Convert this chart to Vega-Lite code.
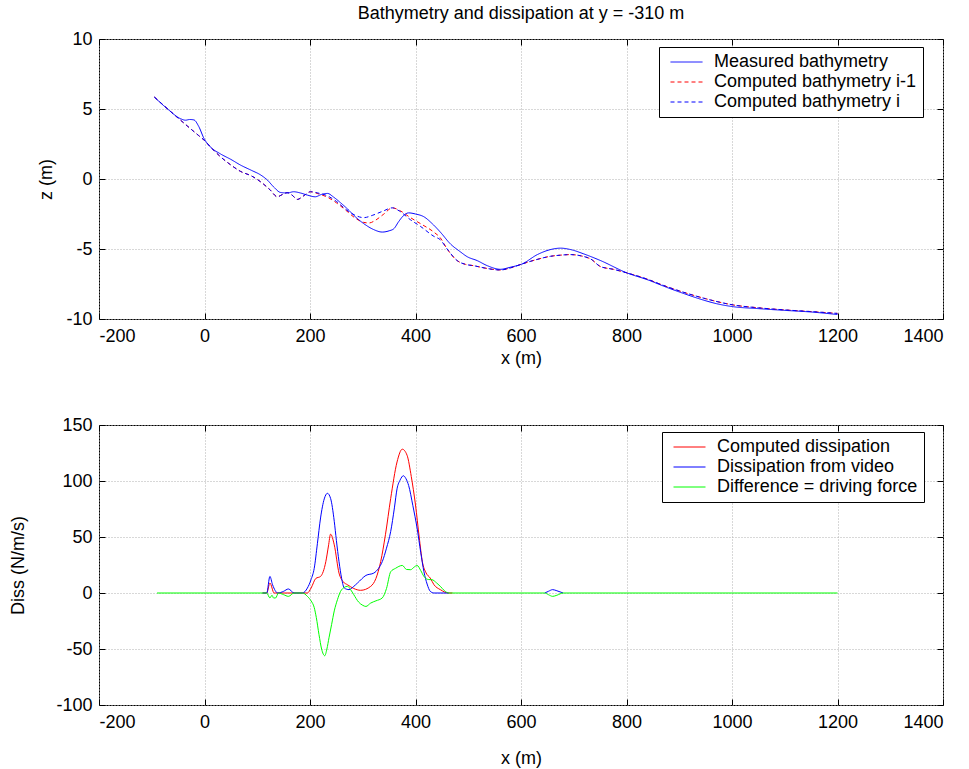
{
  "$schema": "https://vega.github.io/schema/vega-lite/v6.json",
  "background": "white",
  "padding": {"left": 8, "top": 4, "right": 20, "bottom": 4},
  "bounds": "flush",
  "spacing": 106,
  "resolve": {"scale": {"color": "independent", "strokeDash": "independent"}, "legend": {"color": "independent", "strokeDash": "independent"}},
  "config": {
    "font": "Liberation Sans",
    "view": {"stroke": "black", "strokeWidth": 1},
    "axis": {
      "domain": false,
      "tickColor": "black",
      "tickSize": -6,
      "labelColor": "black",
      "labelFontSize": 18,
      "titleFontSize": 18,
      "titleFontWeight": "normal",
      "titleColor": "black",
      "gridColor": "#b0b0b0",
      "gridDash": [1, 2],
      "gridWidth": 1,
      "labelExpr": "'' + datum.value"
    },
    "legend": {
      "orient": "none",
      "strokeColor": "black",
      "fillColor": "white",
      "padding": 5,
      "labelFontSize": 18,
      "labelColor": "black",
      "labelLimit": 400,
      "symbolType": "stroke",
      "symbolSize": 1024,
      "symbolStrokeWidth": 1,
      "symbolOffset": 6,
      "labelOffset": 11,
      "clipHeight": 20,
      "rowPadding": 0,
      "titleOrient": "right",
      "titleFontSize": 18,
      "titleFontWeight": "normal",
      "titlePadding": 2
    },
    "title": {"fontSize": 18, "fontWeight": "normal", "color": "black"}
  },
  "datasets": {
    "bathy": [
      {"x": -95, "z": 5.85, "s": "Measured bathymetry"},
      {"x": -70, "z": 5.0, "s": "Measured bathymetry"},
      {"x": -45, "z": 4.3, "s": "Measured bathymetry"},
      {"x": -36, "z": 4.2, "s": "Measured bathymetry"},
      {"x": -28, "z": 4.25, "s": "Measured bathymetry"},
      {"x": -20, "z": 4.22, "s": "Measured bathymetry"},
      {"x": -11, "z": 3.76, "s": "Measured bathymetry"},
      {"x": -1, "z": 2.9, "s": "Measured bathymetry"},
      {"x": 11, "z": 2.3, "s": "Measured bathymetry"},
      {"x": 30, "z": 1.8, "s": "Measured bathymetry"},
      {"x": 50, "z": 1.4, "s": "Measured bathymetry"},
      {"x": 68, "z": 1.0, "s": "Measured bathymetry"},
      {"x": 90, "z": 0.6, "s": "Measured bathymetry"},
      {"x": 106, "z": 0.3, "s": "Measured bathymetry"},
      {"x": 119, "z": -0.07, "s": "Measured bathymetry"},
      {"x": 132, "z": -0.6, "s": "Measured bathymetry"},
      {"x": 144, "z": -0.96, "s": "Measured bathymetry"},
      {"x": 157, "z": -1.0, "s": "Measured bathymetry"},
      {"x": 169, "z": -0.91, "s": "Measured bathymetry"},
      {"x": 182, "z": -1.0, "s": "Measured bathymetry"},
      {"x": 195, "z": -1.15, "s": "Measured bathymetry"},
      {"x": 210, "z": -1.27, "s": "Measured bathymetry"},
      {"x": 222, "z": -1.1, "s": "Measured bathymetry"},
      {"x": 233, "z": -1.03, "s": "Measured bathymetry"},
      {"x": 245, "z": -1.3, "s": "Measured bathymetry"},
      {"x": 258, "z": -1.7, "s": "Measured bathymetry"},
      {"x": 270, "z": -2.1, "s": "Measured bathymetry"},
      {"x": 286, "z": -2.7, "s": "Measured bathymetry"},
      {"x": 302, "z": -3.19, "s": "Measured bathymetry"},
      {"x": 320, "z": -3.6, "s": "Measured bathymetry"},
      {"x": 337, "z": -3.79, "s": "Measured bathymetry"},
      {"x": 350, "z": -3.7, "s": "Measured bathymetry"},
      {"x": 359, "z": -3.55, "s": "Measured bathymetry"},
      {"x": 368, "z": -3.05, "s": "Measured bathymetry"},
      {"x": 378, "z": -2.59, "s": "Measured bathymetry"},
      {"x": 387, "z": -2.42, "s": "Measured bathymetry"},
      {"x": 400, "z": -2.5, "s": "Measured bathymetry"},
      {"x": 416, "z": -2.7, "s": "Measured bathymetry"},
      {"x": 432, "z": -3.2, "s": "Measured bathymetry"},
      {"x": 447, "z": -3.79, "s": "Measured bathymetry"},
      {"x": 466, "z": -4.63, "s": "Measured bathymetry"},
      {"x": 485, "z": -5.2, "s": "Measured bathymetry"},
      {"x": 498, "z": -5.55, "s": "Measured bathymetry"},
      {"x": 517, "z": -5.83, "s": "Measured bathymetry"},
      {"x": 536, "z": -6.19, "s": "Measured bathymetry"},
      {"x": 561, "z": -6.45, "s": "Measured bathymetry"},
      {"x": 580, "z": -6.3, "s": "Measured bathymetry"},
      {"x": 602, "z": -6.07, "s": "Measured bathymetry"},
      {"x": 631, "z": -5.4, "s": "Measured bathymetry"},
      {"x": 655, "z": -5.05, "s": "Measured bathymetry"},
      {"x": 675, "z": -4.94, "s": "Measured bathymetry"},
      {"x": 695, "z": -5.05, "s": "Measured bathymetry"},
      {"x": 719, "z": -5.35, "s": "Measured bathymetry"},
      {"x": 751, "z": -5.83, "s": "Measured bathymetry"},
      {"x": 801, "z": -6.71, "s": "Measured bathymetry"},
      {"x": 840, "z": -7.2, "s": "Measured bathymetry"},
      {"x": 877, "z": -7.75, "s": "Measured bathymetry"},
      {"x": 910, "z": -8.2, "s": "Measured bathymetry"},
      {"x": 940, "z": -8.58, "s": "Measured bathymetry"},
      {"x": 970, "z": -8.9, "s": "Measured bathymetry"},
      {"x": 1000, "z": -9.11, "s": "Measured bathymetry"},
      {"x": 1050, "z": -9.26, "s": "Measured bathymetry"},
      {"x": 1098, "z": -9.38, "s": "Measured bathymetry"},
      {"x": 1150, "z": -9.5, "s": "Measured bathymetry"},
      {"x": 1200, "z": -9.68, "s": "Measured bathymetry"},

      {"x": -95, "z": 5.85, "s": "Computed bathymetry i-1"},
      {"x": -50, "z": 4.35, "s": "Computed bathymetry i-1"},
      {"x": -33, "z": 3.8, "s": "Computed bathymetry i-1"},
      {"x": -11, "z": 3.1, "s": "Computed bathymetry i-1"},
      {"x": 0, "z": 2.75, "s": "Computed bathymetry i-1"},
      {"x": 11, "z": 2.3, "s": "Computed bathymetry i-1"},
      {"x": 30, "z": 1.6, "s": "Computed bathymetry i-1"},
      {"x": 50, "z": 1.0, "s": "Computed bathymetry i-1"},
      {"x": 68, "z": 0.55, "s": "Computed bathymetry i-1"},
      {"x": 90, "z": 0.2, "s": "Computed bathymetry i-1"},
      {"x": 106, "z": -0.19, "s": "Computed bathymetry i-1"},
      {"x": 125, "z": -0.8, "s": "Computed bathymetry i-1"},
      {"x": 138, "z": -1.27, "s": "Computed bathymetry i-1"},
      {"x": 148, "z": -1.1, "s": "Computed bathymetry i-1"},
      {"x": 157, "z": -0.97, "s": "Computed bathymetry i-1"},
      {"x": 166, "z": -1.15, "s": "Computed bathymetry i-1"},
      {"x": 176, "z": -1.46, "s": "Computed bathymetry i-1"},
      {"x": 188, "z": -1.2, "s": "Computed bathymetry i-1"},
      {"x": 201, "z": -0.91, "s": "Computed bathymetry i-1"},
      {"x": 215, "z": -1.05, "s": "Computed bathymetry i-1"},
      {"x": 233, "z": -1.3, "s": "Computed bathymetry i-1"},
      {"x": 250, "z": -1.7, "s": "Computed bathymetry i-1"},
      {"x": 270, "z": -2.3, "s": "Computed bathymetry i-1"},
      {"x": 286, "z": -2.8, "s": "Computed bathymetry i-1"},
      {"x": 302, "z": -3.1, "s": "Computed bathymetry i-1"},
      {"x": 312, "z": -3.14, "s": "Computed bathymetry i-1"},
      {"x": 324, "z": -2.95, "s": "Computed bathymetry i-1"},
      {"x": 340, "z": -2.5, "s": "Computed bathymetry i-1"},
      {"x": 356, "z": -2.06, "s": "Computed bathymetry i-1"},
      {"x": 370, "z": -2.25, "s": "Computed bathymetry i-1"},
      {"x": 390, "z": -2.75, "s": "Computed bathymetry i-1"},
      {"x": 410, "z": -3.2, "s": "Computed bathymetry i-1"},
      {"x": 435, "z": -3.8, "s": "Computed bathymetry i-1"},
      {"x": 447, "z": -4.2, "s": "Computed bathymetry i-1"},
      {"x": 460, "z": -5.0, "s": "Computed bathymetry i-1"},
      {"x": 479, "z": -5.83, "s": "Computed bathymetry i-1"},
      {"x": 495, "z": -6.1, "s": "Computed bathymetry i-1"},
      {"x": 510, "z": -6.19, "s": "Computed bathymetry i-1"},
      {"x": 530, "z": -6.35, "s": "Computed bathymetry i-1"},
      {"x": 561, "z": -6.5, "s": "Computed bathymetry i-1"},
      {"x": 580, "z": -6.35, "s": "Computed bathymetry i-1"},
      {"x": 602, "z": -6.07, "s": "Computed bathymetry i-1"},
      {"x": 630, "z": -5.75, "s": "Computed bathymetry i-1"},
      {"x": 656, "z": -5.52, "s": "Computed bathymetry i-1"},
      {"x": 675, "z": -5.44, "s": "Computed bathymetry i-1"},
      {"x": 694, "z": -5.4, "s": "Computed bathymetry i-1"},
      {"x": 715, "z": -5.5, "s": "Computed bathymetry i-1"},
      {"x": 732, "z": -5.71, "s": "Computed bathymetry i-1"},
      {"x": 751, "z": -6.26, "s": "Computed bathymetry i-1"},
      {"x": 775, "z": -6.45, "s": "Computed bathymetry i-1"},
      {"x": 801, "z": -6.71, "s": "Computed bathymetry i-1"},
      {"x": 839, "z": -7.15, "s": "Computed bathymetry i-1"},
      {"x": 870, "z": -7.6, "s": "Computed bathymetry i-1"},
      {"x": 909, "z": -8.1, "s": "Computed bathymetry i-1"},
      {"x": 950, "z": -8.55, "s": "Computed bathymetry i-1"},
      {"x": 1003, "z": -9.0, "s": "Computed bathymetry i-1"},
      {"x": 1050, "z": -9.2, "s": "Computed bathymetry i-1"},
      {"x": 1100, "z": -9.35, "s": "Computed bathymetry i-1"},
      {"x": 1150, "z": -9.47, "s": "Computed bathymetry i-1"},
      {"x": 1200, "z": -9.6, "s": "Computed bathymetry i-1"},

      {"x": -95, "z": 5.85, "s": "Computed bathymetry i"},
      {"x": -50, "z": 4.35, "s": "Computed bathymetry i"},
      {"x": -33, "z": 3.8, "s": "Computed bathymetry i"},
      {"x": -11, "z": 3.1, "s": "Computed bathymetry i"},
      {"x": 0, "z": 2.75, "s": "Computed bathymetry i"},
      {"x": 11, "z": 2.3, "s": "Computed bathymetry i"},
      {"x": 30, "z": 1.6, "s": "Computed bathymetry i"},
      {"x": 50, "z": 1.0, "s": "Computed bathymetry i"},
      {"x": 68, "z": 0.55, "s": "Computed bathymetry i"},
      {"x": 90, "z": 0.2, "s": "Computed bathymetry i"},
      {"x": 106, "z": -0.19, "s": "Computed bathymetry i"},
      {"x": 125, "z": -0.8, "s": "Computed bathymetry i"},
      {"x": 138, "z": -1.27, "s": "Computed bathymetry i"},
      {"x": 148, "z": -1.1, "s": "Computed bathymetry i"},
      {"x": 157, "z": -0.97, "s": "Computed bathymetry i"},
      {"x": 166, "z": -1.15, "s": "Computed bathymetry i"},
      {"x": 176, "z": -1.46, "s": "Computed bathymetry i"},
      {"x": 188, "z": -1.2, "s": "Computed bathymetry i"},
      {"x": 201, "z": -0.91, "s": "Computed bathymetry i"},
      {"x": 215, "z": -1.0, "s": "Computed bathymetry i"},
      {"x": 233, "z": -1.2, "s": "Computed bathymetry i"},
      {"x": 250, "z": -1.6, "s": "Computed bathymetry i"},
      {"x": 270, "z": -2.23, "s": "Computed bathymetry i"},
      {"x": 286, "z": -2.6, "s": "Computed bathymetry i"},
      {"x": 302, "z": -2.76, "s": "Computed bathymetry i"},
      {"x": 318, "z": -2.6, "s": "Computed bathymetry i"},
      {"x": 338, "z": -2.3, "s": "Computed bathymetry i"},
      {"x": 356, "z": -2.06, "s": "Computed bathymetry i"},
      {"x": 370, "z": -2.3, "s": "Computed bathymetry i"},
      {"x": 390, "z": -2.9, "s": "Computed bathymetry i"},
      {"x": 410, "z": -3.4, "s": "Computed bathymetry i"},
      {"x": 435, "z": -4.1, "s": "Computed bathymetry i"},
      {"x": 447, "z": -4.34, "s": "Computed bathymetry i"},
      {"x": 460, "z": -5.0, "s": "Computed bathymetry i"},
      {"x": 479, "z": -5.83, "s": "Computed bathymetry i"},
      {"x": 495, "z": -6.1, "s": "Computed bathymetry i"},
      {"x": 510, "z": -6.19, "s": "Computed bathymetry i"},
      {"x": 530, "z": -6.35, "s": "Computed bathymetry i"},
      {"x": 561, "z": -6.5, "s": "Computed bathymetry i"},
      {"x": 580, "z": -6.35, "s": "Computed bathymetry i"},
      {"x": 602, "z": -6.07, "s": "Computed bathymetry i"},
      {"x": 630, "z": -5.75, "s": "Computed bathymetry i"},
      {"x": 656, "z": -5.52, "s": "Computed bathymetry i"},
      {"x": 675, "z": -5.44, "s": "Computed bathymetry i"},
      {"x": 694, "z": -5.4, "s": "Computed bathymetry i"},
      {"x": 715, "z": -5.5, "s": "Computed bathymetry i"},
      {"x": 732, "z": -5.71, "s": "Computed bathymetry i"},
      {"x": 751, "z": -6.26, "s": "Computed bathymetry i"},
      {"x": 775, "z": -6.45, "s": "Computed bathymetry i"},
      {"x": 801, "z": -6.71, "s": "Computed bathymetry i"},
      {"x": 839, "z": -7.15, "s": "Computed bathymetry i"},
      {"x": 870, "z": -7.6, "s": "Computed bathymetry i"},
      {"x": 909, "z": -8.1, "s": "Computed bathymetry i"},
      {"x": 950, "z": -8.55, "s": "Computed bathymetry i"},
      {"x": 1003, "z": -9.0, "s": "Computed bathymetry i"},
      {"x": 1050, "z": -9.2, "s": "Computed bathymetry i"},
      {"x": 1100, "z": -9.35, "s": "Computed bathymetry i"},
      {"x": 1150, "z": -9.47, "s": "Computed bathymetry i"},
      {"x": 1200, "z": -9.6, "s": "Computed bathymetry i"}
    ],
    "diss": [
      {"x": 110, "d": 0, "s": "Computed dissipation", "g": "a"},
      {"x": 118, "d": 0, "s": "Computed dissipation", "g": "a"},
      {"x": 124, "d": 8.9, "s": "Computed dissipation", "g": "a"},
      {"x": 132, "d": 0, "s": "Computed dissipation", "g": "a"},
      {"x": 195, "d": 0, "s": "Computed dissipation", "g": "a"},
      {"x": 202, "d": 4.4, "s": "Computed dissipation", "g": "a"},
      {"x": 211, "d": 13, "s": "Computed dissipation", "g": "a"},
      {"x": 220, "d": 14.8, "s": "Computed dissipation", "g": "a"},
      {"x": 230, "d": 28, "s": "Computed dissipation", "g": "a"},
      {"x": 235, "d": 42, "s": "Computed dissipation", "g": "a"},
      {"x": 239, "d": 52.5, "s": "Computed dissipation", "g": "a"},
      {"x": 246, "d": 43, "s": "Computed dissipation", "g": "a"},
      {"x": 255, "d": 17.8, "s": "Computed dissipation", "g": "a"},
      {"x": 263, "d": 10, "s": "Computed dissipation", "g": "a"},
      {"x": 271, "d": 7.4, "s": "Computed dissipation", "g": "a"},
      {"x": 283, "d": 4, "s": "Computed dissipation", "g": "a"},
      {"x": 296, "d": 2.4, "s": "Computed dissipation", "g": "a"},
      {"x": 315, "d": 5.9, "s": "Computed dissipation", "g": "a"},
      {"x": 325, "d": 13, "s": "Computed dissipation", "g": "a"},
      {"x": 334, "d": 28, "s": "Computed dissipation", "g": "a"},
      {"x": 343, "d": 52, "s": "Computed dissipation", "g": "a"},
      {"x": 353, "d": 84.5, "s": "Computed dissipation", "g": "a"},
      {"x": 365, "d": 117, "s": "Computed dissipation", "g": "a"},
      {"x": 375, "d": 128.4, "s": "Computed dissipation", "g": "a"},
      {"x": 384, "d": 123, "s": "Computed dissipation", "g": "a"},
      {"x": 392, "d": 104, "s": "Computed dissipation", "g": "a"},
      {"x": 400, "d": 78.6, "s": "Computed dissipation", "g": "a"},
      {"x": 407, "d": 50, "s": "Computed dissipation", "g": "a"},
      {"x": 413, "d": 28, "s": "Computed dissipation", "g": "a"},
      {"x": 420, "d": 18, "s": "Computed dissipation", "g": "a"},
      {"x": 428, "d": 13.3, "s": "Computed dissipation", "g": "a"},
      {"x": 435, "d": 7.4, "s": "Computed dissipation", "g": "a"},
      {"x": 447, "d": 3, "s": "Computed dissipation", "g": "a"},
      {"x": 463, "d": 0, "s": "Computed dissipation", "g": "a"},
      {"x": 470, "d": 0, "s": "Computed dissipation", "g": "a"},

      {"x": 110, "d": 0, "s": "Dissipation from video", "g": "a"},
      {"x": 118, "d": 0, "s": "Dissipation from video", "g": "a"},
      {"x": 124, "d": 14.8, "s": "Dissipation from video", "g": "a"},
      {"x": 129, "d": 7.4, "s": "Dissipation from video", "g": "a"},
      {"x": 139, "d": 0, "s": "Dissipation from video", "g": "a"},
      {"x": 150, "d": 1.5, "s": "Dissipation from video", "g": "a"},
      {"x": 159, "d": 3.6, "s": "Dissipation from video", "g": "a"},
      {"x": 170, "d": 0, "s": "Dissipation from video", "g": "a"},
      {"x": 186, "d": 0, "s": "Dissipation from video", "g": "a"},
      {"x": 195, "d": 4.4, "s": "Dissipation from video", "g": "a"},
      {"x": 202, "d": 12, "s": "Dissipation from video", "g": "a"},
      {"x": 208, "d": 22, "s": "Dissipation from video", "g": "a"},
      {"x": 214, "d": 44, "s": "Dissipation from video", "g": "a"},
      {"x": 220, "d": 67, "s": "Dissipation from video", "g": "a"},
      {"x": 227, "d": 84, "s": "Dissipation from video", "g": "a"},
      {"x": 233, "d": 89, "s": "Dissipation from video", "g": "a"},
      {"x": 239, "d": 84.5, "s": "Dissipation from video", "g": "a"},
      {"x": 246, "d": 64, "s": "Dissipation from video", "g": "a"},
      {"x": 250, "d": 47, "s": "Dissipation from video", "g": "a"},
      {"x": 255, "d": 28, "s": "Dissipation from video", "g": "a"},
      {"x": 260, "d": 13, "s": "Dissipation from video", "g": "a"},
      {"x": 265, "d": 4.4, "s": "Dissipation from video", "g": "a"},
      {"x": 274, "d": 3, "s": "Dissipation from video", "g": "a"},
      {"x": 282, "d": 5.5, "s": "Dissipation from video", "g": "a"},
      {"x": 290, "d": 8.9, "s": "Dissipation from video", "g": "a"},
      {"x": 306, "d": 15.7, "s": "Dissipation from video", "g": "a"},
      {"x": 321, "d": 17.8, "s": "Dissipation from video", "g": "a"},
      {"x": 330, "d": 22, "s": "Dissipation from video", "g": "a"},
      {"x": 337, "d": 28, "s": "Dissipation from video", "g": "a"},
      {"x": 345, "d": 40, "s": "Dissipation from video", "g": "a"},
      {"x": 353, "d": 55, "s": "Dissipation from video", "g": "a"},
      {"x": 360, "d": 76, "s": "Dissipation from video", "g": "a"},
      {"x": 365, "d": 93, "s": "Dissipation from video", "g": "a"},
      {"x": 371, "d": 101, "s": "Dissipation from video", "g": "a"},
      {"x": 377, "d": 104.7, "s": "Dissipation from video", "g": "a"},
      {"x": 382, "d": 102, "s": "Dissipation from video", "g": "a"},
      {"x": 387, "d": 96, "s": "Dissipation from video", "g": "a"},
      {"x": 395, "d": 78, "s": "Dissipation from video", "g": "a"},
      {"x": 403, "d": 58, "s": "Dissipation from video", "g": "a"},
      {"x": 410, "d": 36, "s": "Dissipation from video", "g": "a"},
      {"x": 416, "d": 19, "s": "Dissipation from video", "g": "a"},
      {"x": 422, "d": 8, "s": "Dissipation from video", "g": "a"},
      {"x": 428, "d": 1.5, "s": "Dissipation from video", "g": "a"},
      {"x": 435, "d": 0, "s": "Dissipation from video", "g": "a"},
      {"x": 463, "d": 0, "s": "Dissipation from video", "g": "a"},
      {"x": 645, "d": 0, "s": "Dissipation from video", "g": "b"},
      {"x": 652, "d": 1.5, "s": "Dissipation from video", "g": "b"},
      {"x": 660, "d": 3, "s": "Dissipation from video", "g": "b"},
      {"x": 668, "d": 2, "s": "Dissipation from video", "g": "b"},
      {"x": 680, "d": 0, "s": "Dissipation from video", "g": "b"},

      {"x": -90, "d": 0, "s": "Difference = driving force", "g": "a"},
      {"x": 118, "d": 0, "s": "Difference = driving force", "g": "a"},
      {"x": 124, "d": -4.4, "s": "Difference = driving force", "g": "a"},
      {"x": 128, "d": -2, "s": "Difference = driving force", "g": "a"},
      {"x": 131, "d": -4.5, "s": "Difference = driving force", "g": "a"},
      {"x": 135, "d": -4.4, "s": "Difference = driving force", "g": "a"},
      {"x": 140, "d": 0, "s": "Difference = driving force", "g": "a"},
      {"x": 150, "d": -1.5, "s": "Difference = driving force", "g": "a"},
      {"x": 159, "d": -3, "s": "Difference = driving force", "g": "a"},
      {"x": 170, "d": 0, "s": "Difference = driving force", "g": "a"},
      {"x": 186, "d": 0, "s": "Difference = driving force", "g": "a"},
      {"x": 195, "d": -3, "s": "Difference = driving force", "g": "a"},
      {"x": 202, "d": -7, "s": "Difference = driving force", "g": "a"},
      {"x": 208, "d": -13, "s": "Difference = driving force", "g": "a"},
      {"x": 212, "d": -22, "s": "Difference = driving force", "g": "a"},
      {"x": 217, "d": -37, "s": "Difference = driving force", "g": "a"},
      {"x": 222, "d": -50, "s": "Difference = driving force", "g": "a"},
      {"x": 228, "d": -56, "s": "Difference = driving force", "g": "a"},
      {"x": 232, "d": -50, "s": "Difference = driving force", "g": "a"},
      {"x": 236, "d": -40, "s": "Difference = driving force", "g": "a"},
      {"x": 241, "d": -28, "s": "Difference = driving force", "g": "a"},
      {"x": 246, "d": -16, "s": "Difference = driving force", "g": "a"},
      {"x": 252, "d": -6, "s": "Difference = driving force", "g": "a"},
      {"x": 258, "d": 1.5, "s": "Difference = driving force", "g": "a"},
      {"x": 265, "d": 5, "s": "Difference = driving force", "g": "a"},
      {"x": 271, "d": 6, "s": "Difference = driving force", "g": "a"},
      {"x": 277, "d": 3, "s": "Difference = driving force", "g": "a"},
      {"x": 283, "d": -1.5, "s": "Difference = driving force", "g": "a"},
      {"x": 292, "d": -8, "s": "Difference = driving force", "g": "a"},
      {"x": 300, "d": -11, "s": "Difference = driving force", "g": "a"},
      {"x": 306, "d": -12, "s": "Difference = driving force", "g": "a"},
      {"x": 315, "d": -9, "s": "Difference = driving force", "g": "a"},
      {"x": 325, "d": -7, "s": "Difference = driving force", "g": "a"},
      {"x": 337, "d": -4.4, "s": "Difference = driving force", "g": "a"},
      {"x": 345, "d": 4, "s": "Difference = driving force", "g": "a"},
      {"x": 353, "d": 19, "s": "Difference = driving force", "g": "a"},
      {"x": 362, "d": 22, "s": "Difference = driving force", "g": "a"},
      {"x": 375, "d": 24.6, "s": "Difference = driving force", "g": "a"},
      {"x": 383, "d": 21, "s": "Difference = driving force", "g": "a"},
      {"x": 391, "d": 20.8, "s": "Difference = driving force", "g": "a"},
      {"x": 397, "d": 23, "s": "Difference = driving force", "g": "a"},
      {"x": 403, "d": 24.6, "s": "Difference = driving force", "g": "a"},
      {"x": 410, "d": 20, "s": "Difference = driving force", "g": "a"},
      {"x": 416, "d": 14.8, "s": "Difference = driving force", "g": "a"},
      {"x": 425, "d": 12, "s": "Difference = driving force", "g": "a"},
      {"x": 431, "d": 11.9, "s": "Difference = driving force", "g": "a"},
      {"x": 440, "d": 9, "s": "Difference = driving force", "g": "a"},
      {"x": 447, "d": 6, "s": "Difference = driving force", "g": "a"},
      {"x": 455, "d": 2, "s": "Difference = driving force", "g": "a"},
      {"x": 463, "d": 0, "s": "Difference = driving force", "g": "a"},
      {"x": 645, "d": 0, "s": "Difference = driving force", "g": "a"},
      {"x": 652, "d": -1.5, "s": "Difference = driving force", "g": "a"},
      {"x": 660, "d": -3, "s": "Difference = driving force", "g": "a"},
      {"x": 668, "d": -2, "s": "Difference = driving force", "g": "a"},
      {"x": 680, "d": 0, "s": "Difference = driving force", "g": "a"},
      {"x": 1200, "d": 0, "s": "Difference = driving force", "g": "a"}
    ]
  },
  "vconcat": [
    {
      "width": 844,
      "height": 280,
      "title": {"text": "Bathymetry and dissipation at y = -310 m", "anchor": "middle", "frame": "group", "offset": 7},
      "data": {"name": "bathy"},
      "resolve": {"axis": {"x": "independent", "y": "independent"}},
      "layer": [
        {
          "encoding": {
            "x": {"field": "x", "type": "quantitative",
                  "scale": {"domain": [-200, 1400], "nice": false, "zero": false},
                  "axis": {"values": [-200, 0, 200, 400, 600, 800, 1000, 1200, 1400], "title": "x (m)", "labelPadding": 14, "titleY": 30}},
            "y": {"field": "z", "type": "quantitative",
                  "scale": {"domain": [-10, 10], "nice": false, "zero": false},
                  "axis": {"values": [-10, -5, 0, 5, 10], "title": "z (m)", "labelPadding": 13, "titleX": -44}},
            "color": {"field": "s", "type": "nominal",
                      "scale": {"domain": ["Measured bathymetry", "Computed bathymetry i-1", "Computed bathymetry i"], "range": ["#0000ff", "#ff0000", "#0000ff"]},
                      "legend": {"title": "\u00a0", "legendX": 560, "legendY": 8}},
            "strokeDash": {"field": "s", "type": "nominal",
                      "scale": {"domain": ["Measured bathymetry", "Computed bathymetry i-1", "Computed bathymetry i"], "range": [[1, 0], [4, 3], [4, 3]]},
                      "legend": {"title": "\u00a0", "legendX": 560, "legendY": 8}}
          },
          "layer": [
            {
              "transform": [{"filter": "datum.s === 'Computed bathymetry i-1'"}],
              "mark": {"type": "line", "strokeWidth": 1, "interpolate": "monotone"}
            },
            {
              "transform": [{"filter": "datum.s === 'Computed bathymetry i'"}],
              "mark": {"type": "line", "strokeWidth": 1, "interpolate": "monotone"}
            },
            {
              "transform": [{"filter": "datum.s === 'Measured bathymetry'"}],
              "mark": {"type": "line", "strokeWidth": 1, "interpolate": "monotone"}
            }
          ]
        },
        {
          "mark": {"type": "line", "opacity": 0},
          "encoding": {
            "x": {"field": "x", "type": "quantitative",
                  "axis": {"orient": "top", "values": [-200, 0, 200, 400, 600, 800, 1000, 1200, 1400], "labels": false, "grid": false, "title": null}},
            "y": {"field": "z", "type": "quantitative",
                  "axis": {"orient": "right", "values": [-10, -5, 0, 5, 10], "labels": false, "grid": false, "title": null}}
          }
        }
      ]
    },
    {
      "width": 844,
      "height": 280,
      "data": {"name": "diss"},
      "resolve": {"axis": {"x": "independent", "y": "independent"}},
      "layer": [
        {
          "encoding": {
            "x": {"field": "x", "type": "quantitative",
                  "scale": {"domain": [-200, 1400], "nice": false, "zero": false},
                  "axis": {"values": [-200, 0, 200, 400, 600, 800, 1000, 1200, 1400], "title": "x (m)", "labelPadding": 14, "titleY": 44}},
            "y": {"field": "d", "type": "quantitative",
                  "scale": {"domain": [-100, 150], "nice": false, "zero": false},
                  "axis": {"values": [-100, -50, 0, 50, 100, 150], "title": "Diss (N/m/s)", "labelPadding": 13, "titleX": -72}},
            "color": {"field": "s", "type": "nominal",
                      "scale": {"domain": ["Computed dissipation", "Dissipation from video", "Difference = driving force"], "range": ["#ff0000", "#0000ff", "#00ff00"]},
                      "legend": {"title": "\u00a0", "legendX": 563, "legendY": 7}},
            "detail": {"field": "g", "type": "nominal"}
          },
          "layer": [
            {
              "transform": [{"filter": "datum.s === 'Computed dissipation'"}],
              "mark": {"type": "line", "strokeWidth": 1, "interpolate": "monotone"}
            },
            {
              "transform": [{"filter": "datum.s === 'Dissipation from video'"}],
              "mark": {"type": "line", "strokeWidth": 1, "interpolate": "monotone"}
            },
            {
              "transform": [{"filter": "datum.s === 'Difference = driving force'"}],
              "mark": {"type": "line", "strokeWidth": 1, "interpolate": "monotone"}
            }
          ]
        },
        {
          "mark": {"type": "line", "opacity": 0},
          "encoding": {
            "x": {"field": "x", "type": "quantitative",
                  "axis": {"orient": "top", "values": [-200, 0, 200, 400, 600, 800, 1000, 1200, 1400], "labels": false, "grid": false, "title": null}},
            "y": {"field": "d", "type": "quantitative",
                  "axis": {"orient": "right", "values": [-100, -50, 0, 50, 100, 150], "labels": false, "grid": false, "title": null}}
          }
        }
      ]
    }
  ]
}
